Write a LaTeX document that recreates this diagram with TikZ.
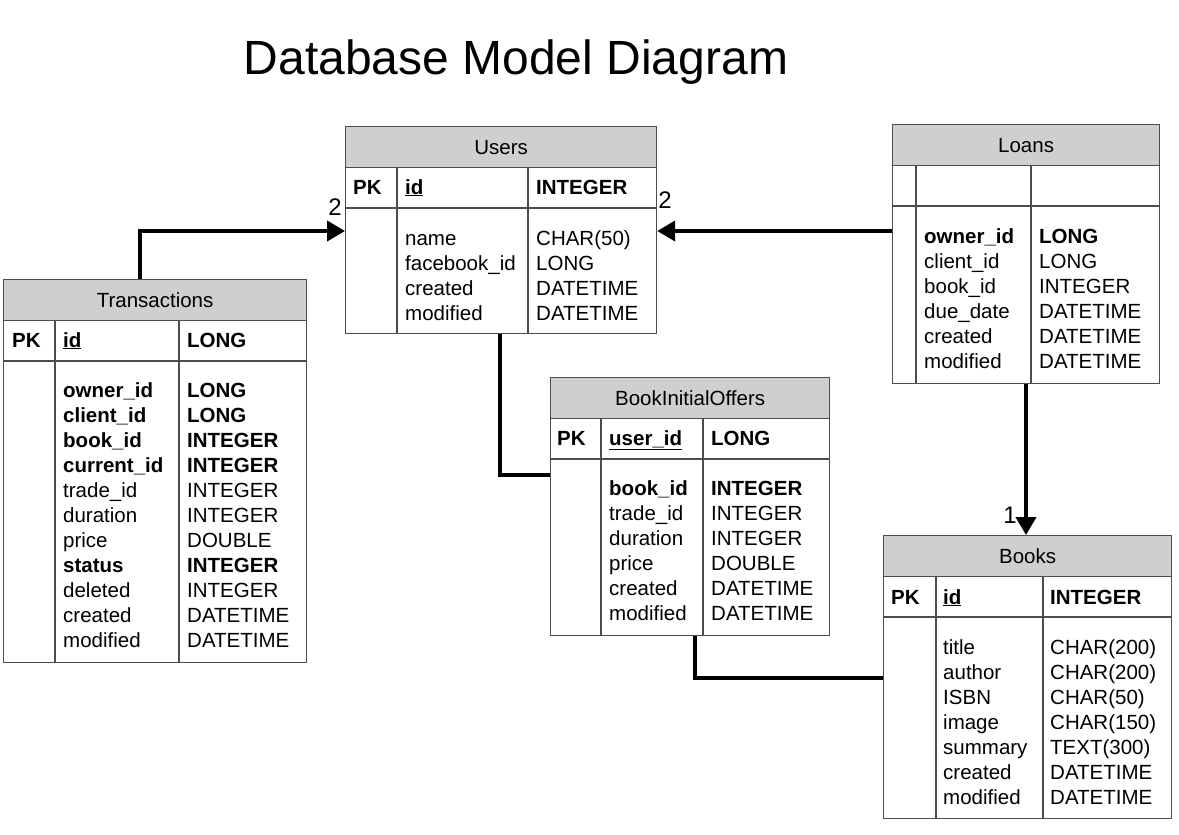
\documentclass[tikz,border=0pt]{standalone}
\usepackage{fontspec}
\setmainfont{Liberation Sans}
\usetikzlibrary{arrows.meta}

\newcommand{\fieldsize}{\fontsize{20.5}{25}\selectfont}
\tikzset{
  tbl/.style={draw=black!70, line width=1.2pt, anchor=north west, inner sep=0pt},
  tblhead/.style={tbl, fill=black!19, minimum height=41pt, font=\fieldsize},
  tblline/.style={draw=black!70, line width=1.2pt},
  field/.style={anchor=base west, inner sep=0pt, font=\fieldsize},
  card/.style={anchor=base, inner sep=0pt, font=\fontsize{24}{28}\selectfont},
  rel/.style={line width=4pt},
  relarrow/.style={rel, -{Triangle[length=18pt,width=20pt]}},
}

% name, title, x, y, width, height, divider 1, divider 2
\newcommand{\dbtable}[8]{%
  \node (#1) [tbl, minimum width=#5pt, minimum height=#6pt] at (#3,#4) {};
  \node (#1-head) [tblhead, minimum width=#5pt] at (#1.north west) {#2};
  \draw[tblline] (#3,#4+82) -- ++(#5,0);
  \draw[tblline] (#7,#4+41) -- (#7,#4+#6);
  \draw[tblline] (#8,#4+41) -- (#8,#4+#6);
}
% name, x, first baseline, rows
\newcommand{\dbfields}[4]{%
  \foreach \txt [count=\i] in {#4}
    \node (#1-\i) [field] at (#2,#3+25*\i-25) {\txt};
}

\begin{document}
\begin{tikzpicture}[x=1pt,y=-1pt]
	\fill[white] (0,0) rectangle (1179,835);
	\useasboundingbox (0,0) rectangle (1179,835);

	\node (title) [anchor=base, font=\fontsize{48}{58}\selectfont] at (516,74) {Database Model Diagram};

	% Users
	\dbtable{users}{Users}{345}{126}{311}{207}{397}{528}
	\node (users-pk) [field] at (353,194) {\textbf{PK}};
	\node (users-pkn) [field] at (405,194) {\underline{\textbf{id}}};
	\node (users-pkt) [field] at (536,194) {\textbf{INTEGER}};
	\dbfields{users-n}{405}{245}{name, facebook\_id, created, modified}
	\dbfields{users-t}{536}{245}{CHAR(50), LONG, DATETIME, DATETIME}

	% Transactions
	\dbtable{trans}{Transactions}{3}{279}{303}{383}{55}{179}
	\node (trans-pk) [field] at (12,347) {\textbf{PK}};
	\node (trans-pkn) [field] at (63,347) {\underline{\textbf{id}}};
	\node (trans-pkt) [field] at (187,347) {\textbf{LONG}};
	\dbfields{trans-n}{63}{397}{\textbf{owner\_id}, \textbf{client\_id}, \textbf{book\_id}, \textbf{current\_id}, trade\_id, duration, price, \textbf{status}, deleted, created, modified}
	\dbfields{trans-t}{187}{397}{\textbf{LONG}, \textbf{LONG}, \textbf{INTEGER}, \textbf{INTEGER}, INTEGER, INTEGER, DOUBLE, \textbf{INTEGER}, INTEGER, DATETIME, DATETIME}

	% Loans
	\dbtable{loans}{Loans}{892}{124}{267}{259}{916}{1031}
	\dbfields{loans-n}{924}{243}{\textbf{owner\_id}, client\_id, book\_id, due\_date, created, modified}
	\dbfields{loans-t}{1039}{243}{\textbf{LONG}, LONG, INTEGER, DATETIME, DATETIME, DATETIME}

	% BookInitialOffers
	\dbtable{offers}{BookInitialOffers}{550}{377}{279}{258}{601}{703}
	\node (offers-pk) [field] at (557,445) {\textbf{PK}};
	\node (offers-pkn) [field] at (609,445) {\underline{\textbf{user\_id}}};
	\node (offers-pkt) [field] at (711,445) {\textbf{LONG}};
	\dbfields{offers-n}{609}{495}{\textbf{book\_id}, trade\_id, duration, price, created, modified}
	\dbfields{offers-t}{711}{495}{\textbf{INTEGER}, INTEGER, INTEGER, DOUBLE, DATETIME, DATETIME}

	% Books
	\dbtable{books}{Books}{883}{535}{288}{283}{936}{1043}
	\node (books-pk) [field] at (891,604) {\textbf{PK}};
	\node (books-pkn) [field] at (943,604) {\underline{\textbf{id}}};
	\node (books-pkt) [field] at (1050,604) {\textbf{INTEGER}};
	\dbfields{books-n}{943}{654}{title, author, ISBN, image, summary, created, modified}
	\dbfields{books-t}{1050}{654}{CHAR(200), CHAR(200), CHAR(50), CHAR(150), TEXT(300), DATETIME, DATETIME}

	% relations
	\coordinate (c1) at (140,231);
	\coordinate (c3) at (500,475);
	\coordinate (c4) at (1026,400);
	\coordinate (c5) at (695,678);
	\draw[relarrow] (trans.north -| c1) -- (c1) -- (users.west |- c1);
	\draw[relarrow] (loans.west |- c1) -- (users.east |- c1);
	\draw[rel] (users.south -| c3) |- (offers.west |- c3);
	\draw[relarrow] (loans.south -| c4) -- (books.north -| c4);
	\draw[rel] (offers.south -| c5) |- (books.west |- c5);

	\node (card-tu) [card] at (335,215) {2};
	\node (card-lu) [card] at (665,208) {2};
	\node (card-lb) [card] at (1010,523) {1};
\end{tikzpicture}
\end{document}
